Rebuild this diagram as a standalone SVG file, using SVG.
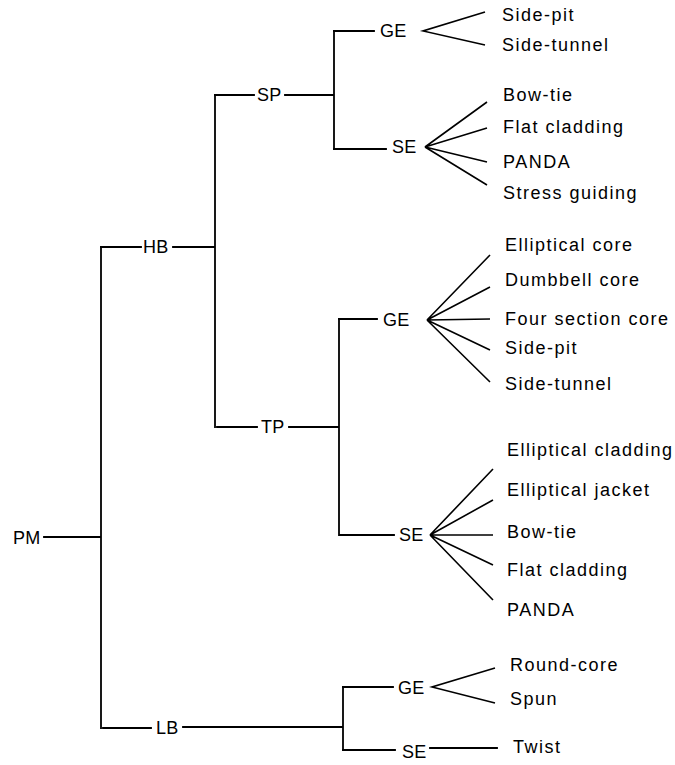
<svg xmlns="http://www.w3.org/2000/svg" width="675" height="765" viewBox="0 0 675 765">
<style>
.bg{fill:#fff}
.ln{stroke:#000;stroke-width:1.8;fill:none;stroke-linecap:square}
.fn{stroke:#000;stroke-width:1.6;fill:none}
.nd{font-family:"Liberation Sans",Arial,sans-serif;font-size:18px;letter-spacing:0.3px;fill:#000}
.lf{font-family:"Liberation Sans",Arial,sans-serif;font-size:18px;letter-spacing:1.5px;fill:#000}
</style>
<rect class="bg" x="0" y="0" width="675" height="765"/>
<g id="connectors">
<!-- PM -->
<path class="ln" d="M44 537 H101 M101 247 V728"/>
<!-- HB -->
<path class="ln" d="M101 247 H141 M173 247 H215 M215 95 V427"/>
<!-- SP -->
<path class="ln" d="M215 95 H254 M285 95 H334 M334 31 V149"/>
<!-- GE1 -->
<path class="ln" d="M334 31 H374"/>
<path class="fn" d="M485 12 L423 31 L485 45"/>
<!-- SE1 -->
<path class="ln" d="M334 149 H386"/>
<path class="fn" d="M487 102 L425 147 L487 128 M425 147 L487 162 M425 147 L487 185"/>
<!-- TP -->
<path class="ln" d="M217 427 H257 M289 427 H339 M339 319 V535"/>
<!-- GE2 -->
<path class="ln" d="M339 319 H377"/>
<path class="fn" d="M490 255 L427 320 L490 287 M427 320 L490 319 M427 320 L490 350 M427 320 L490 382"/>
<!-- SE2 -->
<path class="ln" d="M340 535 H394"/>
<path class="fn" d="M493 469 L430 535 L493 500 M430 535 L493 535 M430 535 L493 565 M430 535 L493 600"/>
<!-- LB -->
<path class="ln" d="M103 728 H151 M183 727 H343 M343 687 V750"/>
<!-- GE3 -->
<path class="ln" d="M343 687 H393"/>
<path class="fn" d="M495 668 L432 687 L495 703"/>
<!-- SE3 -->
<path class="ln" d="M343 750 H395 M430 748 H497"/>
</g>
<g id="PM"><text class="nd" x="13" y="544">PM</text></g>
<g id="HB"><text class="nd" x="143" y="253">HB</text></g>
<g id="SP"><text class="nd" x="257" y="101">SP</text></g>
<g id="TP"><text class="nd" x="261" y="433">TP</text></g>
<g id="LB"><text class="nd" x="156" y="734">LB</text></g>
<g id="SP-GE"><text class="nd" x="380" y="37">GE</text></g>
<g id="SP-SE"><text class="nd" x="392" y="153">SE</text></g>
<g id="TP-GE"><text class="nd" x="383" y="326">GE</text></g>
<g id="TP-SE"><text class="nd" x="399" y="541">SE</text></g>
<g id="LB-GE"><text class="nd" x="398" y="694">GE</text></g>
<g id="LB-SE"><text class="nd" x="402" y="758">SE</text></g>
<g id="leaf-sp-ge-1"><text class="lf" x="502" y="21">Side-pit</text></g>
<g id="leaf-sp-ge-2"><text class="lf" x="502" y="51">Side-tunnel</text></g>
<g id="leaf-sp-se-1"><text class="lf" x="503" y="101">Bow-tie</text></g>
<g id="leaf-sp-se-2"><text class="lf" x="503" y="133">Flat cladding</text></g>
<g id="leaf-sp-se-3"><text class="lf" x="503" y="168">PANDA</text></g>
<g id="leaf-sp-se-4"><text class="lf" x="503" y="199">Stress guiding</text></g>
<g id="leaf-tp-ge-1"><text class="lf" x="505" y="251">Elliptical core</text></g>
<g id="leaf-tp-ge-2"><text class="lf" x="505" y="286">Dumbbell core</text></g>
<g id="leaf-tp-ge-3"><text class="lf" x="505" y="325">Four section core</text></g>
<g id="leaf-tp-ge-4"><text class="lf" x="505" y="354">Side-pit</text></g>
<g id="leaf-tp-ge-5"><text class="lf" x="505" y="390">Side-tunnel</text></g>
<g id="leaf-tp-se-1"><text class="lf" x="507" y="456">Elliptical cladding</text></g>
<g id="leaf-tp-se-2"><text class="lf" x="507" y="496">Elliptical jacket</text></g>
<g id="leaf-tp-se-3"><text class="lf" x="507" y="538">Bow-tie</text></g>
<g id="leaf-tp-se-4"><text class="lf" x="507" y="576">Flat cladding</text></g>
<g id="leaf-tp-se-5"><text class="lf" x="507" y="616">PANDA</text></g>
<g id="leaf-lb-ge-1"><text class="lf" x="510" y="671">Round-core</text></g>
<g id="leaf-lb-ge-2"><text class="lf" x="510" y="705">Spun</text></g>
<g id="leaf-lb-se-1"><text class="lf" x="513" y="753">Twist</text></g>
</svg>
